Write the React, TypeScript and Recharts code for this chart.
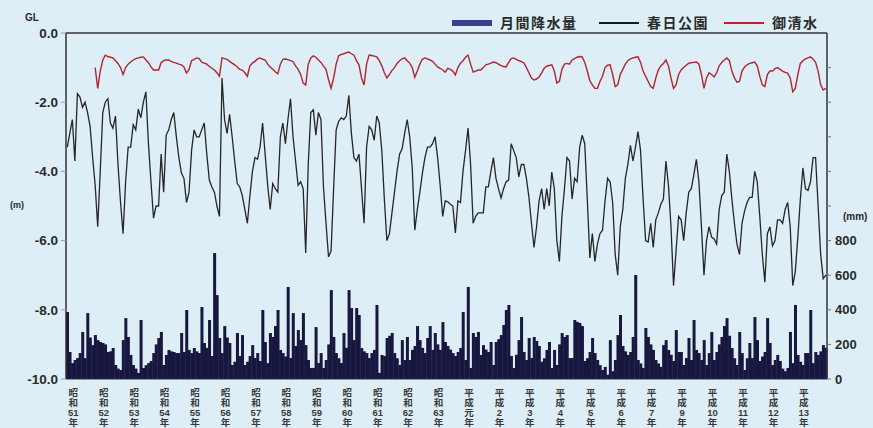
import React from 'react';
import { ComposedChart, Bar, Line, XAxis, YAxis, ReferenceLine } from 'recharts';

// year labels along the bottom (平成8年 is not labelled in the original)
const yearLabels = [
  '昭和51年', '昭和52年', '昭和53年', '昭和54年', '昭和55年', '昭和56年', '昭和57年',
  '昭和58年', '昭和59年', '昭和60年', '昭和61年', '昭和62年', '昭和63年',
  '平成元年', '平成2年', '平成3年', '平成4年', '平成5年', '平成6年', '平成7年',
  '平成9年', '平成10年', '平成11年', '平成12年', '平成13年',
];

// 春日公園 groundwater level, GL (m), monthly, one row per year
const kasuga = [
  [-3.3, -2.9, -2.5, -3.7, -1.75, -1.85, -2.15, -2.0, -2.3, -2.7, -3.6, -4.4],
  [-5.6, -4.0, -2.3, -2.0, -1.9, -2.6, -2.75, -2.4, -3.8, -4.9, -5.8, -4.3],
  [-3.3, -3.3, -2.65, -2.8, -2.2, -2.45, -2.0, -1.7, -3.2, -4.3, -5.35, -5.0],
  [-5.0, -3.5, -4.6, -2.95, -2.8, -2.5, -2.3, -3.0, -3.6, -4.05, -4.2, -4.9],
  [-4.6, -3.4, -2.8, -3.0, -3.0, -2.8, -2.6, -3.5, -4.25, -4.45, -4.6, -5.0],
  [-5.3, -1.3, -2.5, -2.9, -2.35, -3.0, -3.7, -4.35, -4.45, -4.7, -5.1, -5.5],
  [-4.7, -4.0, -3.6, -3.65, -3.3, -2.6, -3.5, -4.4, -5.1, -4.35, -4.5, -4.6],
  [-3.0, -2.6, -3.2, -2.5, -1.9, -3.0, -3.7, -4.4, -4.3, -4.5, -6.36, -3.8],
  [-2.3, -2.22, -2.95, -2.3, -2.5, -4.45, -5.5, -6.47, -6.3, -4.5, -2.8, -2.55],
  [-2.45, -2.5, -2.4, -1.8, -2.9, -3.6, -3.7, -3.5, -4.5, -5.5, -3.3, -2.7],
  [-2.8, -3.1, -2.4, -2.6, -3.4, -4.8, -6.0, -5.8, -5.2, -4.6, -4.0, -3.5],
  [-3.35, -2.9, -2.5, -3.0, -3.9, -5.7, -5.1, -4.6, -4.05, -3.6, -3.3, -3.3],
  [-3.2, -3.0, -3.6, -4.4, -5.3, -4.85, -4.88, -4.95, -5.0, -5.78, -4.85, -4.9],
  [-4.0, -3.4, -2.75, -3.8, -5.5, -5.3, -5.2, -5.2, -5.2, -4.45, -4.45, -4.0],
  [-3.6, -4.2, -4.5, -4.77, -4.5, -4.3, -4.25, -3.2, -3.4, -3.6, -4.16, -3.8],
  [-3.8, -4.2, -4.75, -5.5, -6.2, -5.6, -4.85, -4.5, -5.1, -4.5, -5.0, -4.02],
  [-4.5, -6.0, -6.6, -5.3, -4.5, -3.6, -3.7, -4.8, -4.2, -4.3, -3.3, -2.95],
  [-3.2, -4.8, -6.5, -5.8, -6.6, -6.1, -5.8, -5.7, -4.85, -4.2, -4.3, -4.9],
  [-6.4, -7.0, -5.6, -5.1, -4.2, -3.8, -3.25, -3.7, -3.3, -2.85, -3.4, -4.8],
  [-6.0, -6.04, -5.5, -6.2, -5.4, -5.2, -4.95, -4.8, -3.7, -4.4, -5.6, -7.3],
  [-6.3, -5.3, -5.4, -6.0, -5.2, -4.6, -4.5, -4.1, -3.65, -4.3, -5.6, -7.0],
  [-6.0, -5.6, -5.9, -5.95, -6.1, -5.1, -4.7, -4.6, -3.5, -4.0, -4.8, -5.5],
  [-6.1, -6.4, -5.5, -5.15, -4.9, -4.75, -4.75, -4.0, -4.3, -5.3, -6.4, -7.2],
  [-5.8, -5.6, -6.15, -6.0, -5.4, -5.4, -5.5, -5.1, -4.9, -5.6, -7.3, -6.9],
  [-5.9, -4.8, -3.9, -4.5, -4.55, -4.3, -3.6, -3.6, -5.0, -6.4, -7.1, -7.0],
];

// 御清水 groundwater level, GL (m), monthly
const oshozu = [
  [null, null, null, null, null, null, null, null, null, null, null, -1.0],
  [-1.6, -1.1, -0.78, -0.64, -0.68, -0.7, -0.72, -0.8, -0.88, -1.0, -1.2, -1.0],
  [-0.9, -0.84, -0.78, -0.74, -0.72, -0.7, -0.69, -0.78, -0.86, -0.98, -1.07, -1.07],
  [-1.07, -0.86, -0.8, -0.78, -0.78, -0.82, -0.85, -0.87, -0.9, -0.92, -0.98, -1.16],
  [-1.05, -0.8, -0.76, -0.72, -0.74, -0.84, -0.87, -0.9, -0.97, -1.02, -1.07, -1.15],
  [-1.25, -0.72, -0.74, -0.76, -0.82, -0.87, -0.92, -0.98, -1.05, -1.07, -1.15, -1.25],
  [-0.95, -0.87, -0.82, -0.75, -0.72, -0.76, -0.78, -0.9, -0.98, -1.05, -1.12, -1.18],
  [-0.9, -0.76, -0.75, -0.77, -0.8, -0.83, -0.95, -1.05, -1.2, -1.45, -1.5, -0.9],
  [-0.72, -0.66, -0.7, -0.78, -0.85, -0.95, -1.05, -1.35, -1.6, -1.3, -0.9, -0.66],
  [-0.62, -0.6, -0.57, -0.55, -0.6, -0.64, -0.8, -0.92, -1.3, -1.5, -0.9, -0.64],
  [-0.65, -0.67, -0.69, -0.8, -0.95, -1.15, -1.3, -1.2, -1.08, -1.0, -0.88, -0.8],
  [-0.75, -0.72, -0.8, -0.87, -1.0, -1.28, -1.1, -0.9, -0.76, -0.72, -0.75, -0.78],
  [-0.82, -0.9, -0.98, -1.02, -1.07, -1.13, -1.02, -1.05, -1.1, -1.21, -1.0, -0.87],
  [-0.8, -0.7, -0.64, -0.9, -1.13, -1.1, -1.07, -1.07, -1.0, -0.92, -0.9, -0.87],
  [-0.84, -0.86, -0.9, -0.94, -0.97, -0.98, -0.85, -0.74, -0.72, -0.76, -0.8, -0.83],
  [-0.86, -1.0, -1.15, -1.3, -1.36, -1.33, -1.27, -1.15, -1.02, -0.96, -0.94, -0.92],
  [-1.1, -1.45, -1.4, -1.05, -0.9, -0.88, -0.9, -0.78, -0.74, -0.7, -0.68, -0.69],
  [-0.85, -1.1, -1.38, -1.5, -1.6, -1.6, -1.4, -1.25, -1.0, -0.93, -0.92, -1.2],
  [-1.55, -1.5, -1.2, -1.05, -0.9, -0.8, -0.75, -0.72, -0.7, -0.69, -0.85, -1.1],
  [-1.25, -1.4, -1.55, -1.6, -1.3, -1.07, -0.95, -0.88, -0.78, -0.95, -1.3, -1.6],
  [-1.5, -1.2, -1.07, -1.0, -0.93, -0.87, -0.86, -0.85, -0.84, -0.9, -1.2, -1.6],
  [-1.3, -1.15, -1.2, -1.27, -1.15, -0.95, -0.85, -0.78, -0.72, -0.8, -1.1, -1.3],
  [-1.42, -1.4, -1.1, -0.98, -0.92, -0.88, -0.86, -0.84, -0.95, -1.25, -1.5, -1.55],
  [-1.2, -1.1, -1.1, -1.03, -1.0, -1.05, -1.1, -1.14, -1.16, -1.3, -1.7, -1.6],
  [-1.2, -0.88, -0.8, -0.75, -0.72, -0.69, -0.75, -0.85, -1.1, -1.5, -1.65, -1.6],
];

// 月間降水量 monthly precipitation (mm)
const rain = [
  [387, 156, 92, 110, 121, 150, 272, 121, 381, 240, 196, 254],
  [225, 214, 208, 200, 156, 160, 179, 81, 60, 52, 225, 352],
  [243, 139, 81, 60, 35, 341, 64, 80, 92, 104, 150, 200],
  [237, 272, 81, 139, 168, 160, 156, 150, 150, 266, 156, 399],
  [168, 150, 179, 160, 150, 416, 208, 180, 341, 133, 728, 485],
  [237, 150, 306, 240, 208, 81, 100, 266, 133, 254, 81, 100],
  [133, 196, 121, 150, 104, 399, 214, 92, 266, 243, 306, 399],
  [168, 150, 130, 532, 121, 381, 191, 283, 225, 381, 196, 110],
  [64, 64, 300, 92, 150, 64, 110, 200, 514, 243, 150, 120],
  [92, 266, 180, 514, 410, 225, 410, 370, 179, 160, 150, 121],
  [150, 168, 428, 35, 139, 133, 237, 250, 266, 150, 120, 81],
  [225, 110, 243, 110, 168, 191, 306, 225, 180, 150, 237, 306],
  [168, 266, 200, 168, 329, 214, 191, 170, 150, 133, 156, 179],
  [387, 110, 532, 64, 266, 243, 272, 139, 196, 170, 156, 214],
  [81, 214, 230, 254, 312, 399, 428, 133, 64, 140, 225, 358],
  [156, 110, 237, 121, 243, 220, 191, 100, 120, 168, 214, 64],
  [168, 81, 200, 266, 243, 254, 121, 121, 341, 330, 324, 306],
  [104, 120, 156, 237, 150, 110, 80, 52, 70, 25, 225, 45],
  [110, 254, 370, 191, 160, 139, 156, 243, 601, 110, 90, 64],
  [295, 243, 200, 168, 110, 90, 70, 196, 225, 168, 140, 104],
  [283, 156, 156, 81, 121, 237, 110, 341, 168, 150, 110, 225],
  [81, 150, 272, 110, 156, 200, 243, 306, 352, 250, 179, 120],
  [81, 272, 150, 52, 120, 208, 121, 358, 225, 104, 130, 156],
  [352, 208, 81, 110, 139, 104, 60, 45, 64, 272, 92, 428],
  [139, 100, 81, 150, 150, 399, 92, 156, 139, 160, 196, 180],
];

const glTicks = [0, -2, -4, -6, -8, -10];
const mmTicks = [0, 200, 400, 600, 800, 1000, 1200, 1400, 1600, 1800];

const data = rain.flatMap((row, y) =>
  row.map((r, m) => ({
    i: y * 12 + m,
    rain: r,
    kasuga: kasuga[y][m],
    oshozu: oshozu[y][m],
  }))
);
const yearStarts = yearLabels.map((_, k) => k * 12);

const FONT = "'Liberation Sans', 'Noto Sans CJK JP', sans-serif";
const BG = '#ddeef6';

// vertical label: era (2 chars), number, 年 – one per line
function YearTick(props: any) {
  const { x, y, payload } = props;
  const label: string = yearLabels[payload.value / 12];
  const lines = [label[0], label[1], label.slice(2, -1), label.slice(-1)];
  const cx = x + 6;
  return (
    <text x={cx} y={y} textAnchor="middle" fontSize={9.5} fontWeight="bold" fill="#3a3a3a" fontFamily={FONT}>
      {lines.map((s, j) => (
        <tspan key={j} x={cx} y={y + 9 + j * 10}>{s}</tspan>
      ))}
    </text>
  );
}

function LegendItem({ left, color, h, text }: { left: number; color: string; h: number; text: string }) {
  return (
    <>
      <div style={{ position: 'absolute', left, top: 23 - h / 2, width: 40, height: h, background: color }} />
      <div style={{ position: 'absolute', left: left + 48, top: 14, fontSize: 14, fontWeight: 'bold', letterSpacing: 1.5, color: '#2a2a2a', whiteSpace: 'nowrap', lineHeight: '18px' }}>{text}</div>
    </>
  );
}

export default function App() {
  return (
    <div style={{ position: 'absolute', left: 0, top: 0, width: 873, height: 428, background: BG, fontFamily: FONT, overflow: 'hidden' }}>
      <ComposedChart
        width={873}
        height={428}
        data={data}
        margin={{ top: 33, right: 0, bottom: 0, left: 0 }}
        barCategoryGap={0}
        barGap={0}
      >
        <XAxis
          dataKey="i"
          interval={0}
          ticks={yearStarts}
          tick={<YearTick />}
          tickLine={false}
          axisLine={{ stroke: '#333' }}
          height={49}
        />
        <YAxis
          yAxisId="gl"
          domain={[-10, 0]}
          ticks={glTicks}
          width={66}
          tickFormatter={(v: number) => v.toFixed(1)}
          tick={{ fontSize: 13.5, fontWeight: 'bold', fill: '#2a2a2a', fontFamily: FONT }}
          tickSize={5}
          tickMargin={3}
          tickLine={{ stroke: '#999' }}
          axisLine={{ stroke: '#333', strokeWidth: 1.5 }}
        />
        <YAxis
          yAxisId="mm"
          orientation="right"
          domain={[0, 2000]}
          ticks={mmTicks}
          width={46}
          tickFormatter={(v: number) => (v <= 800 ? String(v) : '')}
          tick={{ fontSize: 13, fontWeight: 'bold', fill: '#2a2a2a', fontFamily: FONT }}
          tickSize={4}
          tickMargin={4}
          tickLine={{ stroke: '#777' }}
          axisLine={{ stroke: '#333', strokeWidth: 1.5 }}
        />
        <Bar yAxisId="mm" dataKey="rain" fill="#17173f" isAnimationActive={false} />
        <Line yAxisId="gl" type="linear" dataKey="kasuga" stroke="#262626" strokeWidth={1.3} dot={false} isAnimationActive={false} />
        <Line yAxisId="gl" type="linear" dataKey="oshozu" stroke="#b0252f" strokeWidth={1.4} dot={false} isAnimationActive={false} />
        <ReferenceLine yAxisId="gl" y={0} stroke="#333" strokeWidth={1.5} />
      </ComposedChart>

      <div style={{ position: 'absolute', left: 25, top: 12, fontSize: 10, fontWeight: 'bold', color: '#2a2a2a' }}>GL</div>
      <div style={{ position: 'absolute', left: 10, top: 200, fontSize: 9, fontWeight: 'bold', color: '#2a2a2a' }}>(m)</div>
      <div style={{ position: 'absolute', left: 843, top: 211, fontSize: 10, fontWeight: 'bold', color: '#2a2a2a' }}>(mm)</div>

      <LegendItem left={452} color="#3b3f8c" h={6} text="月間降水量" />
      <LegendItem left={599} color="#1a1a1a" h={2} text="春日公園" />
      <LegendItem left={724} color="#c0202c" h={2} text="御清水" />
    </div>
  );
}
